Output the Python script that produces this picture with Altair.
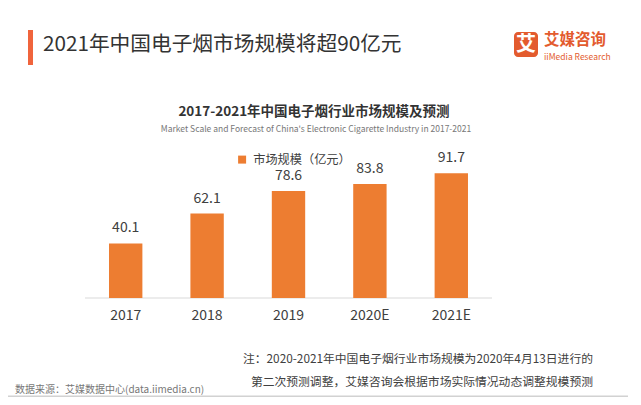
import altair as alt
import pandas as pd

categories = ["2017", "2018", "2019", "2020E", "2021E"]
values = [40.1, 62.1, 78.6, 83.8, 91.7]
series_name = "市场规模（亿元）"

header = "2021年中国电子烟市场规模将超90亿元"
chart_title = "2017-2021年中国电子烟行业市场规模及预测"
chart_subtitle = "Market Scale and Forecast of China's Electronic Cigarette Industry in 2017-2021"
note_lines = ["注：2020-2021年中国电子烟行业市场规模为2020年4月13日进行的",
              "第二次预测调整，艾媒咨询会根据市场实际情况动态调整规模预测"]
source = "数据来源：艾媒数据中心(data.iimedia.cn)"
logo_cn = "艾媒咨询"
logo_en = "iiMedia Research"
logo_mark = "艾"

FONT = "Noto Sans CJK SC"
ORANGE = "#ED7D31"
LOGO = "#E35B2E"

df = pd.DataFrame({"year": categories, "value": values, "series": [series_name] * len(categories)})

base = alt.Chart(df)

x_enc = alt.X("year:N", sort=categories, title=None,
              scale=alt.Scale(paddingInner=0.59, paddingOuter=0.295),
              axis=alt.Axis(labelAngle=0, ticks=False, grid=False, domain=False,
                            labelFont=FONT, labelFontSize=14, labelColor="#404040", labelPadding=10))
y_enc = alt.Y("value:Q", scale=alt.Scale(domain=[0, 100]), axis=None)

bars = base.mark_bar().encode(
    x=x_enc,
    y=y_enc,
    color=alt.Color("series:N", scale=alt.Scale(range=[ORANGE]),
                    legend=alt.Legend(title=None, orient="none", legendX=151, legendY=-8.5,
                                      symbolType="square", symbolSize=64, symbolStrokeWidth=0,
                                      labelFont=FONT, labelFontSize=12.2, labelColor="#404040",
                                      labelOffset=5, padding=0)),
)

labels = base.mark_text(dy=-15, baseline="middle", font=FONT, fontSize=14, color="#404040").encode(
    x=x_enc,
    y=y_enc,
    text=alt.Text("value:Q", format=".1f"),
)

one = pd.DataFrame({"a": [0]})
ox, oy = 77, 154

baseline = alt.Chart(one).mark_rule(color="#d9d9d9", strokeWidth=1).encode(
    x=alt.value(0), x2=alt.value(407), y=alt.value(136))


def txt(text, x, y, size, color, align="left", weight="normal", font=FONT):
    return alt.Chart(pd.DataFrame({"t": [text]})).mark_text(
        align=align, baseline="middle", fontSize=size, color=color, fontWeight=weight, font=font
    ).encode(text="t:N", x=alt.value(x), y=alt.value(y))


accent = alt.Chart(one).mark_rect(color="#F0643C").encode(
    x=alt.value(20 - ox), x2=alt.value(25 - ox), y=alt.value(22 - oy), y2=alt.value(57 - oy))

logo_box = alt.Chart(one).mark_rect(color=LOGO, cornerRadius=4).encode(
    x=alt.value(506 - ox), x2=alt.value(530 - ox), y=alt.value(24 - oy), y2=alt.value(49 - oy))

bottom_line = alt.Chart(one).mark_rect(color="#d2d2d2").encode(
    x=alt.value(0 - ox), x2=alt.value(620 - ox), y=alt.value(387.5 - oy), y2=alt.value(389 - oy))

layers = [
    baseline, bars, labels, accent, logo_box, bottom_line,
    txt(header, 35 - ox, 37 - oy, 20.7, "#333333"),
    txt(logo_mark, 518 - ox, 37 - oy, 20, "#ffffff", align="center", weight="bold"),
    txt(logo_cn, 536 - ox, 31.5 - oy, 15.5, LOGO, weight="bold"),
    txt(logo_en, 536 - ox, 48.5 - oy, 8.5, LOGO),
    txt(chart_title, 306 - ox, 104 - oy, 13.5, "#333333", align="center", weight="bold"),
    txt(chart_subtitle, 308 - ox, 121 - oy, 8.5, "#777777", align="center"),
    txt(note_lines[0], 585 - ox, 351 - oy, 11.8, "#404040", align="right"),
    txt(note_lines[1], 585 - ox, 374 - oy, 11.8, "#404040", align="right"),
    txt(source, 7 - ox, 382 - oy, 10, "#777777"),
]

chart = alt.layer(*layers).properties(
    width=407, height=136,
    autosize=alt.AutoSizeParams(type="none"),
    padding={"left": 77, "top": 154, "right": 141, "bottom": 99},
    background="white",
).configure_view(stroke="transparent", strokeOpacity=0, strokeWidth=0).configure_axis(grid=False, domain=False)

chart.save("out.html", embed_options={"renderer": "svg", "actions": False})
